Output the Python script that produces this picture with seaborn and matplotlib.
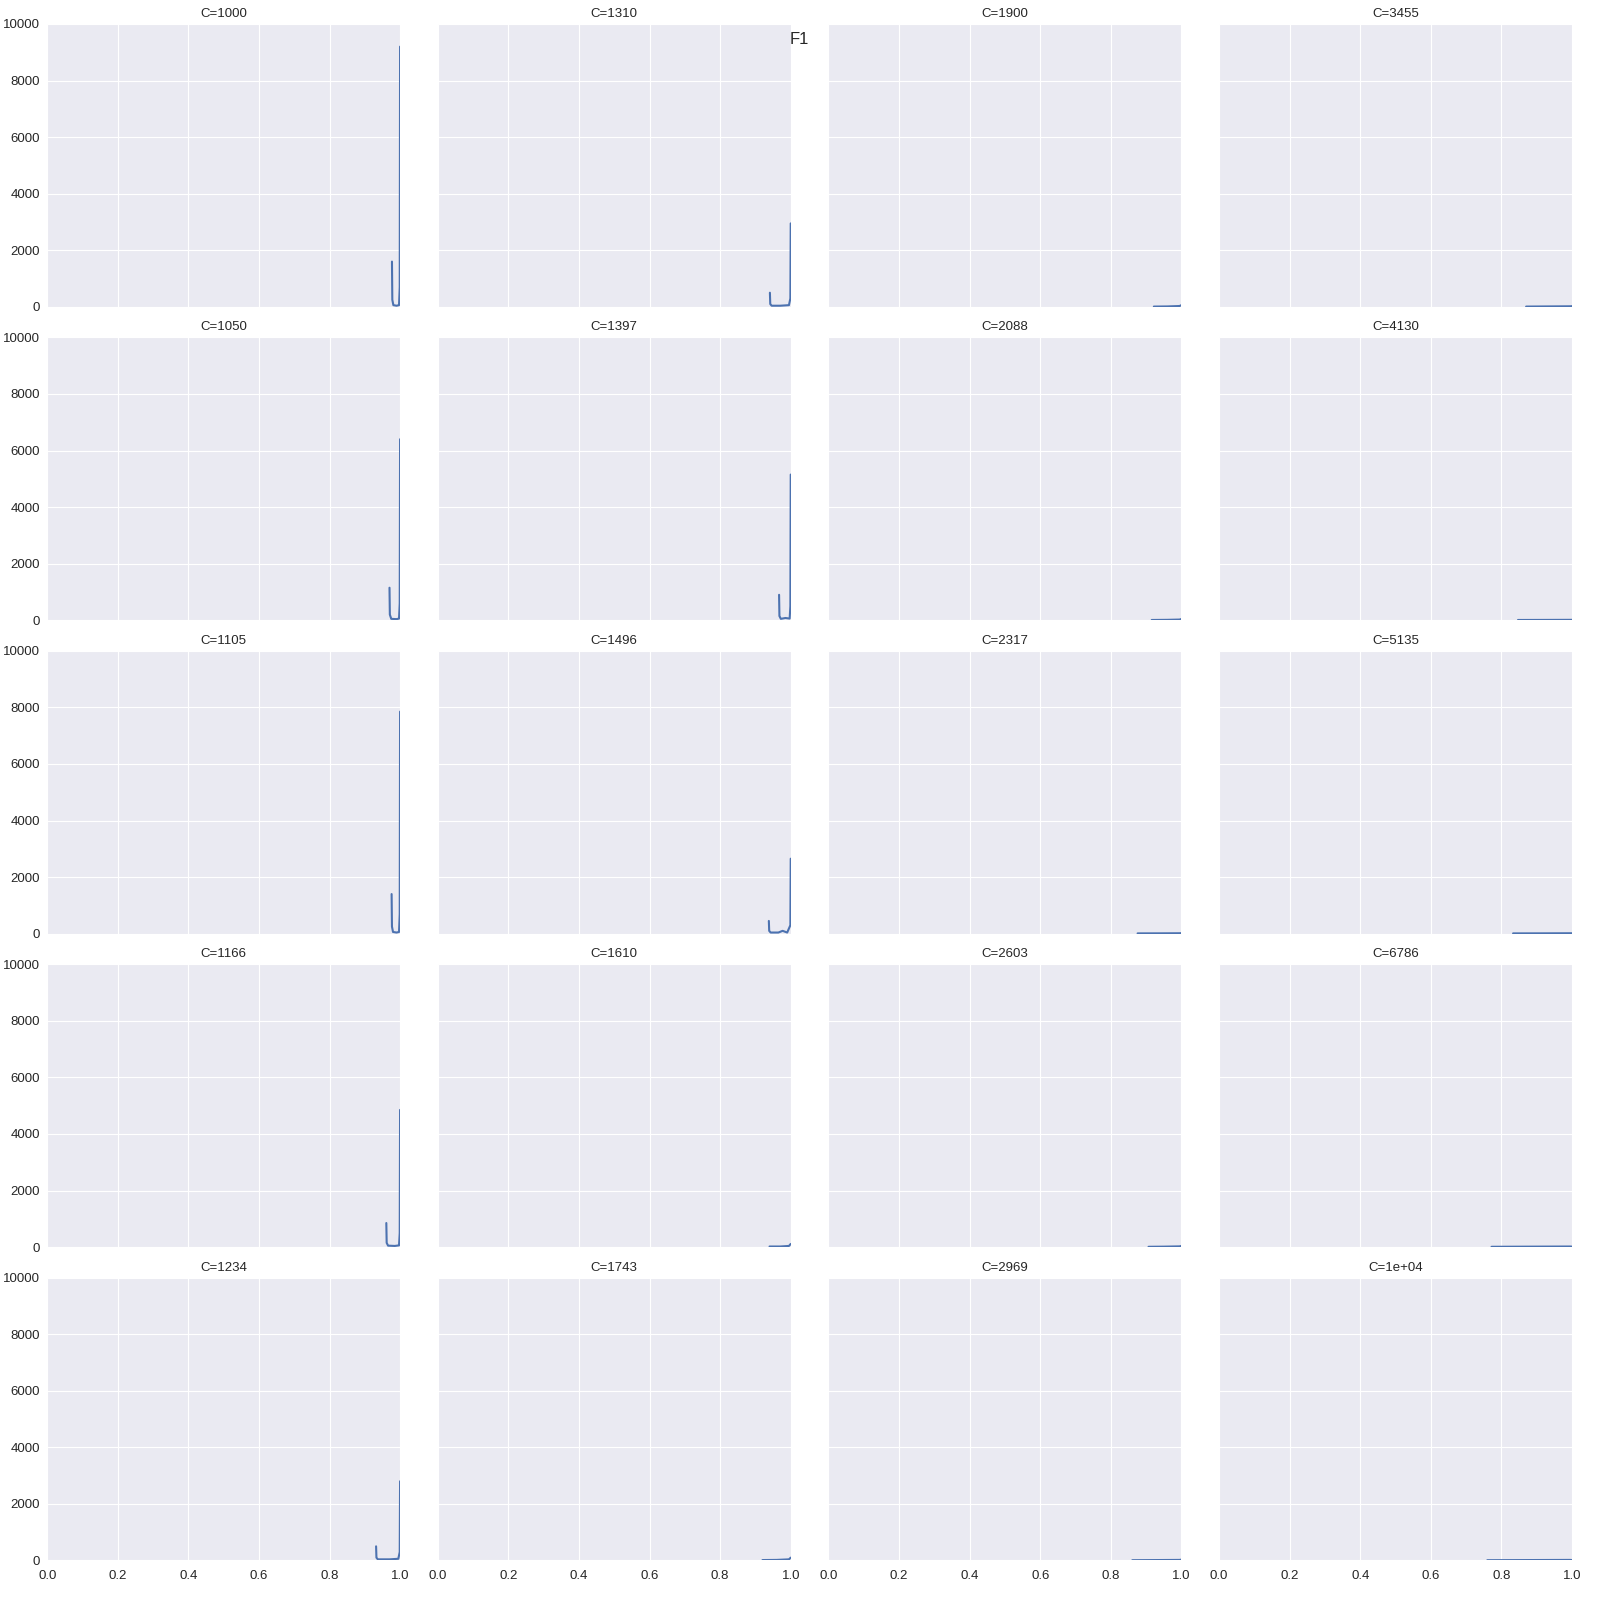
import numpy as np
import pandas as pd
import matplotlib
matplotlib.use("Agg")
import matplotlib.pyplot as plt
import seaborn as sns

# Panel labels (column-major order in the 5x4 grid)
C_labels = ["1000", "1050", "1105", "1166", "1234",
            "1310", "1397", "1496", "1610", "1743",
            "1900", "2088", "2317", "2603", "2969",
            "3455", "4130", "5135", "6786", "1e+04"]

# Density curves of F1
x_1000 = [0.977, 0.978, 0.981, 0.990, 0.997, 0.999, 1.000]
y_1000 = [1600, 250, 60, 40, 60, 700, 9200]
x_1050 = [0.970, 0.971, 0.975, 0.990, 0.997, 0.999, 1.000]
y_1050 = [1150, 200, 50, 40, 60, 600, 6400]
x_1105 = [0.976, 0.977, 0.980, 0.990, 0.997, 0.999, 1.000]
y_1105 = [1400, 250, 60, 40, 60, 700, 7850]
x_1166 = [0.961, 0.962, 0.966, 0.985, 0.997, 0.999, 1.000]
y_1166 = [850, 150, 50, 40, 60, 500, 4850]
x_1234 = [0.932, 0.933, 0.937, 0.970, 0.995, 0.999, 1.000]
y_1234 = [500, 100, 40, 40, 60, 300, 2800]
x_1310 = [0.941, 0.942, 0.946, 0.970, 0.995, 0.999, 1.000]
y_1310 = [500, 100, 40, 40, 60, 300, 2950]
x_1397 = [0.967, 0.968, 0.972, 0.985, 0.997, 0.999, 1.000]
y_1397 = [900, 150, 50, 80, 60, 500, 5150]
x_1496 = [0.938, 0.939, 0.943, 0.965, 0.977, 0.990, 0.999, 1.000]
y_1496 = [450, 100, 40, 40, 100, 40, 300, 2650]
x_1610 = [0.940, 0.970, 0.995, 1.000]
y_1610 = [20, 20, 40, 110]
x_1743 = [0.920, 0.960, 0.995, 1.000]
y_1743 = [15, 20, 40, 100]
x_1900 = [0.922, 0.960, 0.995, 1.000]
y_1900 = [10, 15, 30, 60]
x_2088 = [0.916, 0.960, 0.995, 1.000]
y_2088 = [10, 15, 25, 45]
x_2317 = [0.876, 0.940, 0.995, 1.000]
y_2317 = [10, 12, 15, 20]
x_2603 = [0.907, 0.950, 0.995, 1.000]
y_2603 = [10, 15, 25, 40]
x_2969 = [0.861, 0.930, 0.995, 1.000]
y_2969 = [10, 15, 20, 30]
x_3455 = [0.870, 0.930, 0.995, 1.000]
y_3455 = [10, 15, 20, 25]
x_4130 = [0.847, 0.920, 0.995, 1.000]
y_4130 = [10, 12, 15, 15]
x_5135 = [0.833, 0.920, 0.995, 1.000]
y_5135 = [10, 12, 15, 15]
x_6786 = [0.772, 0.880, 0.995, 1.000]
y_6786 = [10, 15, 20, 15]
x_1e04 = [0.760, 0.880, 0.995, 1.000]
y_1e04 = [10, 15, 20, 15]

panel_x = [x_1000, x_1050, x_1105, x_1166, x_1234,
           x_1310, x_1397, x_1496, x_1610, x_1743,
           x_1900, x_2088, x_2317, x_2603, x_2969,
           x_3455, x_4130, x_5135, x_6786, x_1e04]
panel_y = [y_1000, y_1050, y_1105, y_1166, y_1234,
           y_1310, y_1397, y_1496, y_1610, y_1743,
           y_1900, y_2088, y_2317, y_2603, y_2969,
           y_3455, y_4130, y_5135, y_6786, y_1e04]

x_ticks = [0.0, 0.2, 0.4, 0.6, 0.8, 1.0]
y_ticks = [0, 2000, 4000, 6000, 8000, 10000]

sns.set_style("darkgrid", {"axes.facecolor": "#EAEAF2", "grid.color": "white"})
plt.rcParams["font.family"] = ["Liberation Sans", "DejaVu Sans"]

fig, axes = plt.subplots(5, 4, figsize=(16, 16), dpi=100, sharex=True, sharey=True)
fig.subplots_adjust(left=0.0295, right=0.9825, top=0.985, bottom=0.0247,
                    wspace=0.107, hspace=0.108)

for i, (lab, xs, ys) in enumerate(zip(C_labels, panel_x, panel_y)):
    r, c = i % 5, i // 5
    ax = axes[r, c]
    df = pd.DataFrame({"F1": xs, "density": ys})
    sns.lineplot(data=df, x="F1", y="density", ax=ax, color="#4C72B0",
                 linewidth=1.5, sort=False, estimator=None)
    ax.set_title(f"C={lab}", fontsize=9.5, pad=5)
    ax.set_xlim(0, 1)
    ax.set_ylim(0, 10000)
    ax.set_xticks(x_ticks)
    ax.set_yticks(y_ticks)
    ax.set_xlabel("")
    ax.set_ylabel("")
    ax.tick_params(length=0, labelsize=9.5)
    ax.tick_params(axis="x", pad=7)
    ax.tick_params(axis="y", pad=5)
    for s in ax.spines.values():
        s.set_visible(False)
    if r < 4:
        ax.tick_params(labelbottom=False)
    if c > 0:
        ax.tick_params(labelleft=False)

fig.suptitle("F1", x=0.4995, y=0.980, fontsize=12)
fig.savefig("out.png", dpi=100)
